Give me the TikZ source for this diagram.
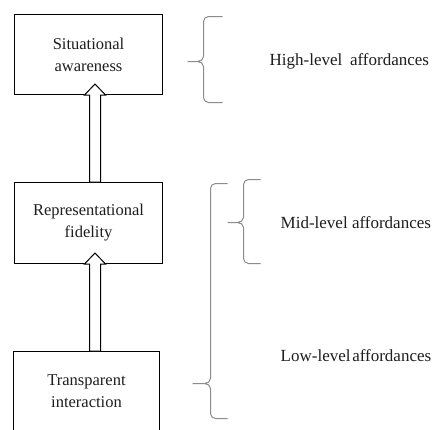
\documentclass[tikz,border=0pt]{standalone}
\usepackage{fontspec}
\setmainfont{Liberation Serif}
\usetikzlibrary{calc}
\definecolor{bracegray}{RGB}{140,140,140}
\definecolor{textgray}{RGB}{30,30,30}
\tikzset{
  stage/.style={draw=black, line width=1pt, fill=white, minimum width=148pt,
    minimum height=80pt, align=center, inner sep=0pt, font=\fontsize{16.5}{22}\selectfont,
    text=textgray},
  levellabel/.style={anchor=west, inner sep=0pt, font=\fontsize{17}{20}\selectfont, text=textgray},
  blockarrow/.style={draw=black, line width=1pt, fill=white, line join=miter},
  bracepath/.style={draw=bracegray, line width=1pt}
}
% curly brace: tip x, spine x, end x, top y, tip y, bottom y
\newcommand\levelbrace[6]{%
  \draw[bracepath] (#3,#4) -- ({#2+5},#4) to[out=180,in=90] ({#2},{#4+5})
    -- ({#2},{#5-5}) to[out=-90,in=0] ({#2-6},#5) -- (#1,#5)
    -- ({#2-6},#5) to[out=0,in=90] ({#2},{#5+5})
    -- ({#2},{#6-5}) to[out=-90,in=180] ({#2+5},#6) -- (#3,#6);}
% hollow block arrow from the top of one stage up into the stage above
\newcommand\stagearrow[2]{%
  \coordinate (base) at ($(#2.south)+(1,0)$);
  \draw[blockarrow] (base |- #1.north) -- (base) -- ++(-5,0) -- ++(10.5,-11)
    -- ++(10.5,11) -- ++(-5,0) -- ($(base |- #1.north)+(11,0)$) -- cycle;}
\begin{document}
\begin{tikzpicture}[x=1pt,y=-1pt]
% integer coordinates fall on pixel centres
\clip (-0.5,-0.5) rectangle (433.5,428.5);
\fill[white] (-0.5,-0.5) rectangle (433.5,428.5);

% stages
\node[stage] (sa) at (88,54) {Situational\\awareness};
\node[stage, minimum height=81pt] (rf) at (88,222.5) {Representational\\fidelity};
\node[stage, minimum width=146pt] (ti) at (86,391) {Transparent\\interaction};

% arrows between stages
\stagearrow{rf}{sa}
\stagearrow{ti}{rf}

% braces
\levelbrace{187}{203}{222}{16}{61}{102}
\levelbrace{227}{243}{260}{179}{222}{263}
\levelbrace{192}{210}{227}{183}{383}{418}

% labels
\node[levellabel] (hl) at (269,61) {High-level\hspace{0.45em}affordances};
\node[levellabel] (ml) at (280,222) {Mid-level affordances};
\node[levellabel] (ll) at (280,355) {Low-level\hspace{0.1em}affordances};
\end{tikzpicture}
\end{document}
